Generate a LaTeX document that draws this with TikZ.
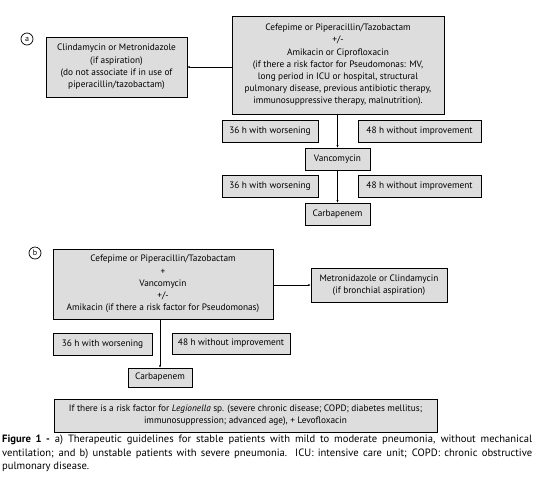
\documentclass[tikz,border=0pt]{standalone}
\usepackage{fontspec}
\setmainfont{PT Sans}
\usetikzlibrary{arrows.meta}
\definecolor{boxgray}{RGB}{221,221,221}
\tikzset{
  box/.style={draw=black, line width=0.9pt, fill=boxgray, align=center, inner sep=1pt,
    font=\fontsize{9.3}{12.2}\selectfont},
  conn/.style={line width=0.9pt},
  arr/.style={conn, -{Stealth[length=2.5pt,width=2pt]}},
  tag/.style={draw=black, line width=0.7pt, circle, minimum size=12pt, inner sep=0pt,
    font=\fontsize{8}{8}\selectfont}
}
\begin{document}
\begin{tikzpicture}[x=1pt,y=-1pt]
\useasboundingbox (0,0) rectangle (535,485);
% part a
\node[tag] (ta) at (27,39) {a};
\node[box, minimum width=141pt, minimum height=60pt] (L) at (116.5,67) {Clindamycin or Metronidazole\\(if aspiration)\\(do not associate if in use of\\piperacillin/tazobactam)};
\node[box, minimum width=212pt, minimum height=98pt] (A1) at (338,65) {Cefepime or Piperacillin/Tazobactam\\+/-\\Amikacin or Ciprofloxacin\\(if there a risk factor for Pseudomonas: MV,\\long period in ICU or hospital, structural\\pulmonary disease, previous antibiotic therapy,\\immunosuppressive therapy, malnutrition).};
\node[box, minimum width=96pt, minimum height=22pt] (w1) at (270,131) {36 h with worsening};
\node[box, minimum width=123pt, minimum height=22pt] (i1) at (419.5,131) {48 h without improvement};
\node[box, minimum width=65pt, minimum height=22pt] (V) at (337.5,159) {Vancomycin};
\node[box, minimum width=96pt, minimum height=22pt] (w2) at (270,186.5) {36 h with worsening};
\node[box, minimum width=123pt, minimum height=22pt] (i2) at (419.5,186.5) {48 h without improvement};
\node[box, minimum width=65pt, minimum height=22pt] (C1) at (337.5,214) {Carbapenem};
\draw[arr] (A1.west |- L.east) -- (L.east);
\draw[arr] (A1.south -| V.north) -- (V.north);
\draw[arr] (V.south) -- (C1.north);
% part b
\node[tag] (tb) at (35,253) {b};
\node[box, minimum width=220pt, minimum height=70pt] (B1) at (163,284) {Cefepime or Piperacillin/Tazobactam\\+\\Vancomycin\\+/-\\Amikacin (if there a risk factor for Pseudomonas)};
\node[box, minimum width=136pt, minimum height=34pt] (M) at (379,285) {Metronidazole or Clindamycin\\(if bronchial aspiration)};
\node[box, minimum width=99pt, minimum height=22pt] (w3) at (102.5,344) {36 h with worsening};
\node[box, minimum width=118pt, minimum height=21pt] (i3) at (231,343.5) {48 h without improvement};
\node[box, minimum width=64pt, minimum height=19pt] (C2) at (160,377.5) {Carbapenem};
\draw[arr] (B1.east |- M.west) -- (M.west);
\draw[arr] (B1.south -| C2.north) -- (C2.north);
\node[box, minimum width=383pt, minimum height=33pt] (G) at (245.5,415.5) {If there is a risk factor for \textit{Legionella} sp. (severe chronic disease; COPD; diabetes mellitus;\\immunosuppression; advanced age), + Levofloxacin};
% caption
\node[anchor=north west, inner sep=0pt, text width=530pt, align=justify,
  font=\fontsize{10.6}{13.3}\selectfont] (cap) at (2,435) {\textbf{Figure 1 -} a) Therapeutic guidelines for stable patients with mild to moderate pneumonia, without mechanical\linebreak ventilation; and b) unstable patients with severe pneumonia. ICU: intensive care unit; COPD: chronic obstructive\linebreak pulmonary disease.};
\end{tikzpicture}
\end{document}
